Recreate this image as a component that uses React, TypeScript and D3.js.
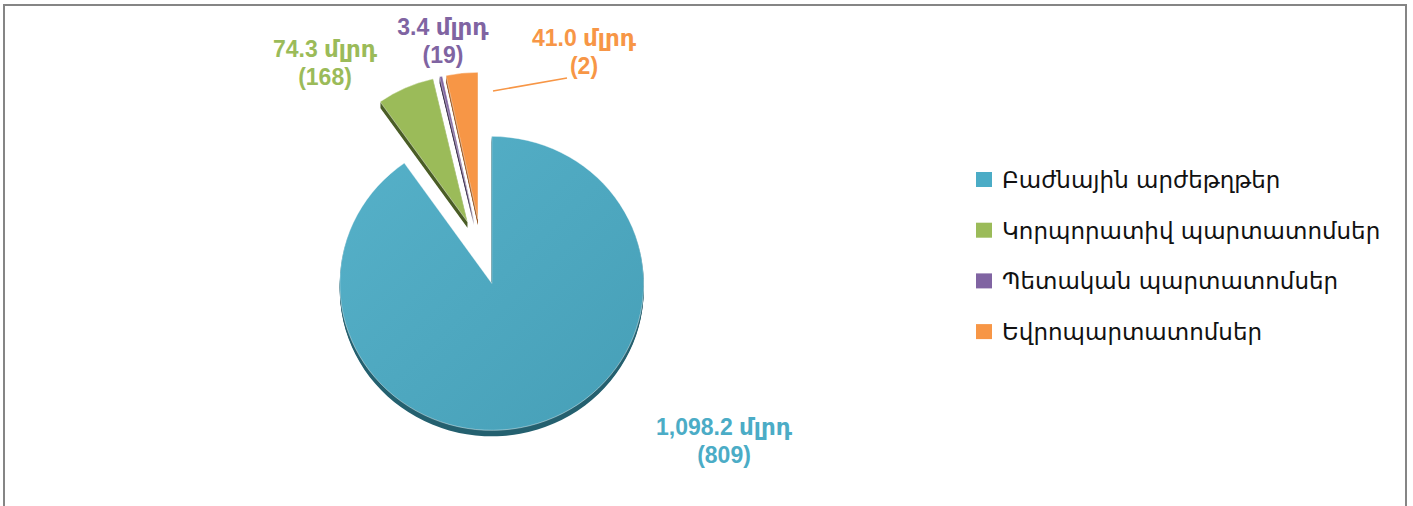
import React from "react";
import * as d3 from "d3";

const categories = [
  "Բաժնային արժեթղթեր",
  "Կորպորատիվ պարտատոմսեր",
  "Պետական պարտատոմսեր",
  "Եվրոպարտատոմսեր",
];
const values = [1098.2, 74.3, 3.4, 41.0];
const valueLabels = ["1,098.2 մլրդ", "74.3 մլրդ", "3.4 մլրդ", "41.0 մլրդ"];
const countLabels = ["(809)", "(168)", "(19)", "(2)"];

const colors = ["#4BACC6", "#9BBB59", "#8064A2", "#F79646"];
const sideColors = ["#24606f", "#4a5d26", "#3f3151", "#9a5a26"];
// label anchor (center x, first baseline y)
const labelPos: [number, number][] = [
  [724, 435],
  [325, 57],
  [443, 35],
  [584, 46],
];

const W = 1413;
const H = 506;
const cx = 481.5;
const cy = 252;
const R = 152;
const SY = 0.967;
const EXPLODE = 34;
const DEPTH = 6;

export default function App() {
  const pie = d3
    .pie<number>()
    .sort(null)
    .value((d) => d)
    .startAngle(0)
    .endAngle(2 * Math.PI);
  const arcs = pie(values);
  const arc = d3.arc<d3.PieArcDatum<number>>().innerRadius(0).outerRadius(R);

  const offsets = arcs.map((a) => {
    const mid = (a.startAngle + a.endAngle) / 2;
    return [EXPLODE * Math.sin(mid), -EXPLODE * Math.cos(mid)];
  });

  const depthSteps = d3.range(1, DEPTH + 1);

  return (
    <svg
      width={W}
      height={H}
      style={{ position: "absolute", left: 0, top: 0, background: "#fff" }}
    >
      <defs>
        <linearGradient id="blueGrad" x1="0" y1="0" x2="1" y2="1">
          <stop offset="0" stopColor="#56b1c9" />
          <stop offset="1" stopColor="#469fb7" />
        </linearGradient>
      </defs>
      <rect
        x={4}
        y={5}
        width={1402}
        height={540}
        fill="none"
        stroke="#858585"
        strokeWidth={2}
      />
      {/* side walls */}
      {arcs.map((a, i) => (
        <g key={"s" + i}>
          {depthSteps.map((t) => (
            <path
              key={t}
              d={arc(a) || ""}
              fill={sideColors[i]}
              transform={`translate(${cx + offsets[i][0]},${cy + offsets[i][1] * SY + t}) scale(1,${SY})`}
            />
          ))}
        </g>
      ))}
      {/* top faces */}
      {arcs.map((a, i) => (
        <path
          key={"t" + i}
          d={arc(a) || ""}
          fill={i === 0 ? "url(#blueGrad)" : colors[i]}
          stroke="#ffffff"
          strokeWidth={0.6}
          strokeOpacity={0.7}
          transform={`translate(${cx + offsets[i][0]},${cy + offsets[i][1] * SY}) scale(1,${SY})`}
        />
      ))}
      {/* leader line for the small orange slice */}
      <line x1={493} y1={91} x2={567} y2={78} stroke={colors[3]} strokeWidth={1.5} />
      {/* data labels */}
      {arcs.map((a, i) => (
        <text
          key={"l" + i}
          x={labelPos[i][0]}
          y={labelPos[i][1]}
          textAnchor="middle"
          fill={colors[i]}
          fontFamily="'Liberation Sans', Arial, 'DejaVu Sans', sans-serif"
          fontWeight="bold"
          fontSize={23}
        >
          <tspan x={labelPos[i][0]}>{valueLabels[i]}</tspan>
          <tspan x={labelPos[i][0]} dy={28}>
            {countLabels[i]}
          </tspan>
        </text>
      ))}
      {/* legend */}
      {categories.map((c, i) => (
        <g key={"lg" + i} transform={`translate(976,${172 + i * 50.7})`}>
          <rect x={0} y={0} width={16} height={15} fill={colors[i]} />
          <text
            x={26}
            y={16}
            fontFamily="'DejaVu Sans', sans-serif"
            fontSize={23}
            fill="#111"
          >
            {c}
          </text>
        </g>
      ))}
    </svg>
  );
}
